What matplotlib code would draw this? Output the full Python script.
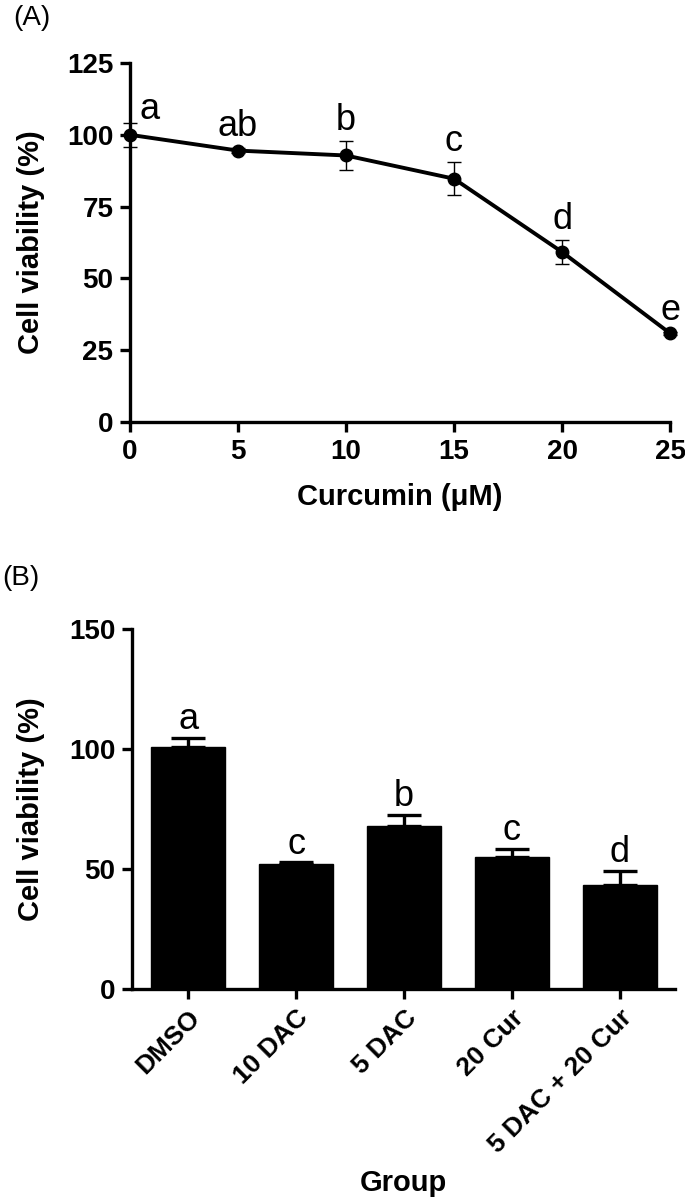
import matplotlib
matplotlib.use("Agg")
import matplotlib.pyplot as plt

plt.rcParams["font.family"] = ["Liberation Sans", "DejaVu Sans"]

# Panel A: dose response
curc_dose = [0, 5, 10, 15, 20, 25]
curc_viab = [100.0, 94.5, 92.8, 84.7, 59.2, 30.9]
curc_err = [4.1, 1.0, 4.9, 5.7, 4.2, 0.5]
curc_letters = ["a", "ab", "b", "c", "d", "e"]

# Panel B: treatment groups
groups = ["DMSO", "10 DAC", "5 DAC", "20 Cur", "5 DAC + 20 Cur"]
group_viab = [100.8, 52.0, 68.0, 55.0, 43.3]
group_err = [3.8, 0.8, 4.5, 3.5, 6.0]
group_letters = ["a", "c", "b", "c", "d"]

LW = 2.4
TICK_FS = 20
LABEL_FS = 21
LETTER_FS = 26

fig = plt.figure(figsize=(6.85, 12), dpi=100)


def style_axes(ax):
    for s in ("top", "right"):
        ax.spines[s].set_visible(False)
    for s in ("left", "bottom"):
        ax.spines[s].set_linewidth(LW)
    ax.tick_params(direction="out", length=7, width=LW, labelsize=TICK_FS, pad=5)
    for lab in ax.get_xticklabels() + ax.get_yticklabels():
        lab.set_fontweight("bold")


# ---- (A) ----
axA = fig.add_axes([130 / 685, 1 - 422 / 1200, 540 / 685, 359 / 1200])
axA.errorbar(curc_dose, curc_viab, yerr=curc_err, color="black", lw=2.8,
             marker="o", ms=9, ecolor="black", elinewidth=1.0, capsize=5,
             capthick=1.0, clip_on=False, zorder=3)
axA.set_xlim(0, 25)
axA.set_ylim(0, 125)
axA.set_xticks(curc_dose)
axA.set_yticks([0, 25, 50, 75, 100, 125])
style_axes(axA)
for i, (x, y, e, t) in enumerate(zip(curc_dose, curc_viab, curc_err, curc_letters)):
    if i == 0:
        off = (14, 10)
    else:
        off = (0, 15)
    axA.annotate(t, (x, y + e), xytext=off, textcoords="offset points",
                 ha="center", va="center", fontsize=LETTER_FS, annotation_clip=False)
axA.set_ylabel("Cell viability (%)", fontsize=LABEL_FS, fontweight="bold")
axA.yaxis.set_label_coords(-0.158, 0.5)
axA.set_xlabel("Curcumin (μM)", fontsize=LABEL_FS, fontweight="bold")
axA.xaxis.set_label_coords(0.5, -0.21)
axA.xaxis.label.set_va("center")
fig.text(13 / 685, 1 - 18 / 1200, "(A)", fontsize=20, va="center", ha="left")

# ---- (B) ----
axB = fig.add_axes([132 / 685, 1 - 989 / 1200, 543 / 685, 360 / 1200])
xpos = list(range(len(groups)))
axB.bar(xpos, group_viab, width=0.69, color="black", edgecolor="black", zorder=2)
axB.errorbar(xpos, group_viab, yerr=[[0] * len(groups), group_err], fmt="none",
             ecolor="black", elinewidth=2.4, capsize=12, capthick=2.4, zorder=3)
axB.set_xlim(-0.52, 4.51)
axB.set_ylim(0, 150)
axB.set_yticks([0, 50, 100, 150])
axB.set_xticks(xpos)
axB.set_xticklabels(groups, rotation=45, ha="right", rotation_mode="anchor")
style_axes(axB)
for lab in axB.get_xticklabels():
    lab.set_fontsize(19)
for x, y, e, t in zip(xpos, group_viab, group_err, group_letters):
    axB.annotate(t, (x, y + e), xytext=(0, 13), textcoords="offset points",
                 ha="center", va="center", fontsize=LETTER_FS)
axB.set_ylabel("Cell viability (%)", fontsize=LABEL_FS, fontweight="bold")
axB.yaxis.set_label_coords(-0.16, 0.5)
axB.set_xlabel("Group", fontsize=LABEL_FS, fontweight="bold")
axB.xaxis.set_label_coords(0.5, -0.54)
axB.xaxis.label.set_va("center")
fig.text(2 / 685, 1 - 578 / 1200, "(B)", fontsize=20, va="center", ha="left")

fig.savefig("out.png", dpi=100)
plt.close(fig)
